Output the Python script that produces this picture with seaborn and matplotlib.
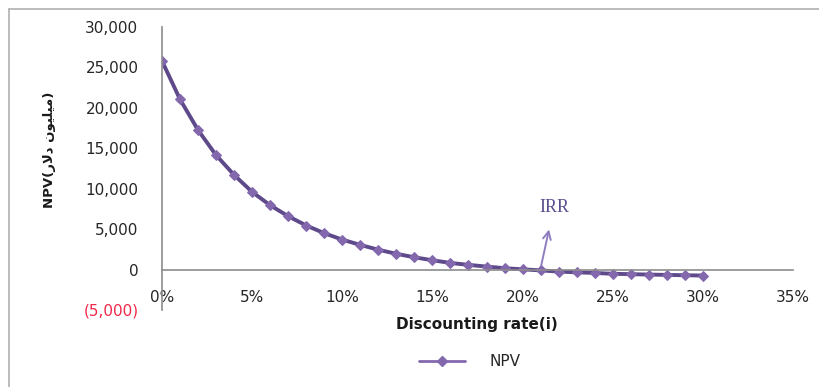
import matplotlib
matplotlib.use("Agg")
import matplotlib.pyplot as plt
import seaborn as sns
import pandas as pd
from matplotlib.lines import Line2D

# ---- data ----
rates = list(range(0, 31))  # discounting rate in %
npv = [25800, 21050, 17250, 14150, 11700, 9600, 7950, 6600, 5450, 4500,
       3700, 3050, 2450, 1950, 1520, 1150, 820, 580, 370, 170,
       30, -100, -250, -340, -420, -520, -570, -620, -660, -700, -740]
series_name = "NPV"
x_ticks = [0, 5, 10, 15, 20, 25, 30, 35]
x_tick_labels = ["0%", "5%", "10%", "15%", "20%", "25%", "30%", "35%"]
y_ticks = [-5000, 0, 5000, 10000, 15000, 20000, 25000, 30000]
y_tick_labels = ["(5,000)", "0", "5,000", "10,000", "15,000", "20,000", "25,000", "30,000"]
x_label = "Discounting rate(i)"
# Persian part "میلیون دلار" written in visual (shaped) order
y_label = "NPV(" + "\uFEAD\uFEFB\uFEA9" + " " + "\uFEE5\uFEEE\uFEF4\uFEE0\uFEF4\uFEE3" + ")"
irr_label = "IRR"
irr_rate = 21.0

df = pd.DataFrame({"rate": rates, "NPV": npv})

sns.set_theme(style="white")
plt.rcParams["font.family"] = ["DejaVu Sans"]

W, H = 820, 387
fig = plt.figure(figsize=(W / 100, H / 100), dpi=100)
fig.patch.set_facecolor("white")
ax = fig.add_axes([162 / W, 1 - 310 / H, (793 - 162) / W, (310 - 27) / H])
ax.set_facecolor("white")

line_c = "#5E4A8B"
mark_c = "#8468AE"
sns.lineplot(data=df, x="rate", y="NPV", ax=ax, color=line_c, lw=2.8,
             marker="D", markersize=5.3, markerfacecolor=mark_c,
             markeredgecolor=mark_c, label=series_name, legend=False)

ax.set_xlim(0, 35)
ax.set_ylim(-5000, 30000)
ax.set_xticks(x_ticks)
ax.set_xticklabels(x_tick_labels)
ax.set_yticks(y_ticks)
ax.set_yticklabels(y_tick_labels)

for s in ["top", "right"]:
    ax.spines[s].set_visible(False)
ax.spines["bottom"].set_position(("data", 0))
for s in ["bottom", "left"]:
    ax.spines[s].set_color("#8C8C8C")
    ax.spines[s].set_linewidth(1.2)

ax.tick_params(axis="both", length=0, labelsize=11, colors="#262626")
ax.tick_params(axis="y", pad=17)
ax.tick_params(axis="x", pad=15)
for lab in ax.get_yticklabels():
    if lab.get_text().startswith("("):
        lab.set_color("#F0284A")

ax.set_xlabel("")
ax.set_ylabel("")
fig.text(477 / W, 1 - 325 / H, x_label, ha="center", va="center",
         fontsize=11, fontweight="bold", color="#1a1a1a")
fig.text(50 / W, 1 - 150 / H, y_label, ha="center", va="center",
         rotation=90, fontsize=9.5, fontweight="bold", color="#1a1a1a")

# IRR annotation
ax.annotate("", xy=(irr_rate + 0.5, 5300), xytext=(irr_rate, 150),
            arrowprops=dict(arrowstyle="->", color="#8F7DBF", lw=1.4,
                            mutation_scale=14))
ax.text(irr_rate + 0.75, 7650, irr_label, ha="center", va="center",
        fontsize=13, family="Liberation Serif", color="#5B4E8F")

# legend
handle = Line2D([], [], color=mark_c, lw=2.0, marker="D", markersize=5.5,
                markerfacecolor=mark_c, markeredgecolor=mark_c)
fig.legend([handle], [series_name], loc="center",
           bbox_to_anchor=(470 / W, 1 - 362 / H), frameon=False,
           fontsize=11, handlelength=3.0, handletextpad=1.6)

# chart frame (left and top)
fig.add_artist(Line2D([9 / W, 9 / W], [0, 1 - 9 / H], color="#B0B0B0", lw=1.2))
fig.add_artist(Line2D([9 / W, 1], [1 - 9 / H, 1 - 9 / H], color="#B0B0B0", lw=1.2))

fig.savefig("out.png", dpi=100, facecolor="white")
